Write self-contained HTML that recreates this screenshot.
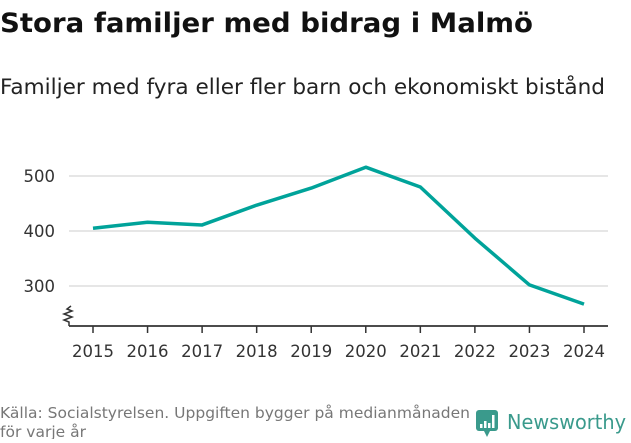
<!DOCTYPE html>
<html><head><meta charset="utf-8"><style>
body{margin:0;background:#fff;width:631px;height:439px;overflow:hidden;font-family:"DejaVu Sans","Liberation Sans",sans-serif;}
</style></head><body>
<svg width="631" height="439" xmlns="http://www.w3.org/2000/svg">
<text x="0" y="32" font-size="27" font-weight="bold" fill="#111" textLength="533" lengthAdjust="spacingAndGlyphs">Stora familjer med bidrag i Malmö</text>
<text x="0" y="94" font-size="21" fill="#222" textLength="605" lengthAdjust="spacingAndGlyphs">Familjer med fyra eller fler barn och ekonomiskt bistånd</text>
<g id="grid"></g>
<g id="axis"></g>
<path d="M69 326 V322 l-5 -2 l8 -3 l-8 -3 l8 -3 l-5 -2 l4 -3" fill="none" stroke="#333" stroke-width="1.5"/>
<g id="series"></g>
<text x="0" y="418" font-size="15" fill="#777" textLength="470" lengthAdjust="spacingAndGlyphs">Källa: Socialstyrelsen. Uppgiften bygger på medianmånaden</text>
<text x="0" y="437" font-size="15" fill="#777" textLength="86" lengthAdjust="spacingAndGlyphs">för varje år</text>
<g>
<rect x="476" y="410" width="22" height="21" rx="3" fill="#3a9a8c"/>
<path d="M484 431 l3 6 l3 -6z" fill="#3a9a8c"/>
<rect x="480" y="424" width="2.5" height="4" fill="#fff"/><rect x="484" y="421" width="2.5" height="7" fill="#fff"/><rect x="488" y="423" width="2.5" height="5" fill="#fff"/><rect x="492" y="415" width="2.5" height="13" fill="#fff"/>
<text x="507" y="429" font-size="20" fill="#3a9a8c" font-weight="500" textLength="119" lengthAdjust="spacingAndGlyphs">Newsworthy</text>
</g>
</svg>
<script>
const years=[2015,2016,2017,2018,2019,2020,2021,2022,2023,2024];
const values=[405,416,411,447,478,516,480,387,302,267];
const yTicks=[300,400,500];
const NS="http://www.w3.org/2000/svg";
const x=i=>93+i*(584-93)/(years.length-1);
const y=v=>286-(v-300)*0.55;
const grid=document.getElementById('grid'),axis=document.getElementById('axis'),ser=document.getElementById('series');
function mk(t,a,p){const e=document.createElementNS(NS,t);for(const k in a)e.setAttribute(k,a[k]);p.appendChild(e);return e;}
yTicks.forEach(t=>{
 const l=mk('line',{x1:69,x2:608,y1:y(t),y2:y(t),stroke:'#ddd','stroke-width':1.5},grid);
 
 
 const tx=mk('text',{x:55,y:y(t)+6,'font-size':16.5,fill:'#333','text-anchor':'end'},grid);tx.textContent=t;
 
 
});
const ax=mk('line',{x1:69,x2:608,y1:326,y2:326,stroke:'#333','stroke-width':1.8},axis);


years.forEach((yr,i)=>{
 mk('line',{x1:x(i),x2:x(i),y1:326,y2:333,stroke:'#333','stroke-width':1.5},axis);
 const tx=mk('text',{x:x(i),y:357,'font-size':16.5,fill:'#333','text-anchor':'middle'},axis);tx.textContent=yr;
 
 
});
const p=mk('polyline',{points:values.map((v,i)=>x(i)+','+y(v)).join(' '),fill:'none',stroke:'#00a39a','stroke-width':3.5,'stroke-linejoin':'round'},ser);


</script>
</body></html>
